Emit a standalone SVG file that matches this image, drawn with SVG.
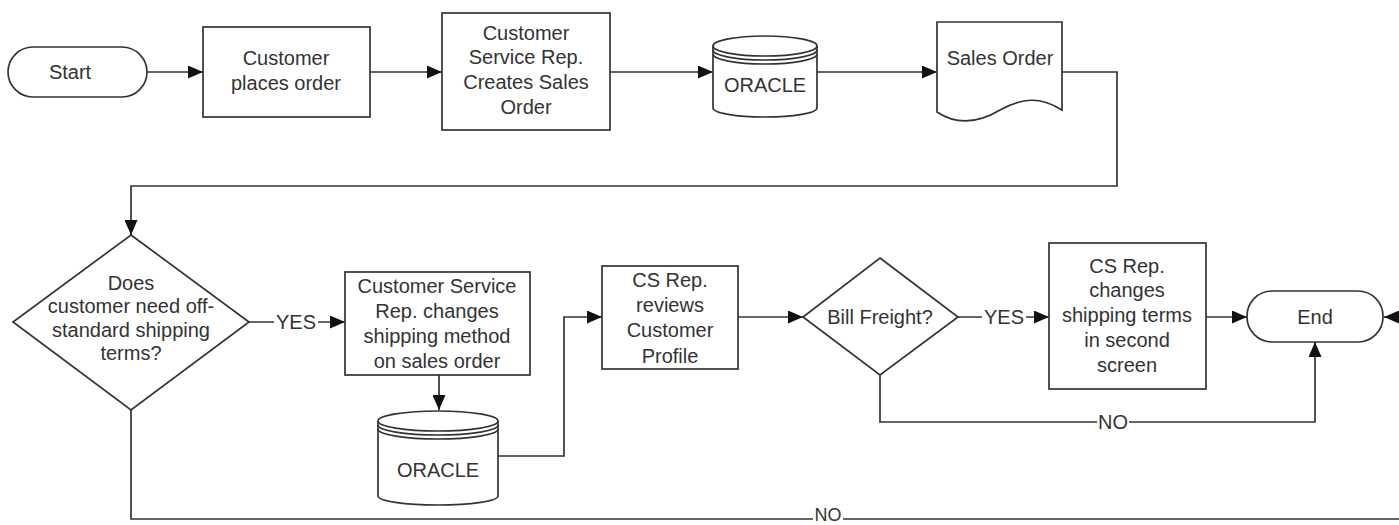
<svg xmlns="http://www.w3.org/2000/svg" width="1399" height="525" viewBox="0 0 1399 525">
<defs>
<marker id="arr" viewBox="0 0 15 13" refX="15" refY="6.5" markerWidth="15" markerHeight="13" markerUnits="userSpaceOnUse" orient="auto">
<path d="M0,0 L15,6.5 L0,13 Z" fill="#111"/>
</marker>
<style>
.s{fill:#fff;stroke:#333;stroke-width:1.7}
.c{fill:none;stroke:#333;stroke-width:1.7}
.t{font-family:"Liberation Sans",Arial,sans-serif;font-size:20px;fill:#333;text-anchor:middle}
.lb{fill:#fff;stroke:none}
</style>
</defs>
<rect width="1399" height="525" fill="#fff"/>
<g id="connectors">
<path class="c" d="M147,72 H203" marker-end="url(#arr)"/>
<path class="c" d="M370,72 H442" marker-end="url(#arr)"/>
<path class="c" d="M610,72 H713" marker-end="url(#arr)"/>
<path class="c" d="M817,72 H937" marker-end="url(#arr)"/>
<path class="c" d="M1062,72 H1117 V186 H131 V235" marker-end="url(#arr)"/>
<path class="c" d="M249,322 H345" marker-end="url(#arr)"/>
<path class="c" d="M439,375 V410" marker-end="url(#arr)"/>
<path class="c" d="M498,456 H564 V317 H602" marker-end="url(#arr)"/>
<path class="c" d="M738,317 H803" marker-end="url(#arr)"/>
<path class="c" d="M958,317 H1049" marker-end="url(#arr)"/>
<path class="c" d="M1206,317 H1247" marker-end="url(#arr)"/>
<path class="c" d="M880,375 V422 H1315 V342" marker-end="url(#arr)"/>
<path class="c" d="M131,410 V519 H1399"/>
<path class="c" d="M1399,317 H1384" marker-end="url(#arr)"/>
<rect class="lb" x="274" y="312" width="44" height="20"/>
<text class="t" x="296" y="329">YES</text>
<rect class="lb" x="982" y="307" width="44" height="20"/>
<text class="t" x="1004" y="324">YES</text>
<rect class="lb" x="1097" y="412" width="32" height="20"/>
<text class="t" x="1113" y="429">NO</text>
<rect class="lb" x="813" y="508" width="30" height="17"/>
<text class="t" x="828" y="521" style="font-size:18px">NO</text>
</g>
<g id="start">
<rect class="s" x="8" y="47" width="139" height="50" rx="25" ry="25"/>
<text class="t" x="70" y="79">Start</text>
</g>
<g id="customer-places-order">
<rect class="s" x="203" y="27" width="167" height="90"/>
<text class="t" x="286" y="65">Customer</text>
<text class="t" x="286" y="90">places order</text>
</g>
<g id="csr-creates-order">
<rect class="s" x="442" y="13" width="168" height="117"/>
<text class="t" x="526" y="40">Customer</text>
<text class="t" x="526" y="64">Service Rep.</text>
<text class="t" x="526" y="89">Creates Sales</text>
<text class="t" x="526" y="114">Order</text>
</g>
<g id="oracle-1">
<path class="s" d="M713,46 A52,10 0 0 1 817,46 V108 A52,9 0 0 1 713,108 Z"/>
<path class="c" d="M713,46 A52,10 0 0 0 817,46 M713,50 A52,10 0 0 0 817,50 M713,54 A52,10 0 0 0 817,54"/>
<text class="t" x="765" y="92">ORACLE</text>
</g>
<g id="sales-order">
<path class="s" d="M937,22 H1062 V110 C1040,96 1022,98 1000,110 C980,122 958,126 937,112 Z"/>
<text class="t" x="1000" y="65">Sales Order</text>
</g>
<g id="decision-off-standard">
<path class="s" d="M131,235 L249,322 L131,410 L13,322 Z"/>
<text class="t" x="131" y="290">Does</text>
<text class="t" x="131" y="313">customer need off-</text>
<text class="t" x="131" y="337">standard shipping</text>
<text class="t" x="131" y="360">terms?</text>
</g>
<g id="csr-changes-method">
<rect class="s" x="345" y="272" width="185" height="103"/>
<text class="t" x="437" y="293">Customer Service</text>
<text class="t" x="437" y="318">Rep. changes</text>
<text class="t" x="437" y="343">shipping method</text>
<text class="t" x="437" y="368">on sales order</text>
</g>
<g id="oracle-2">
<path class="s" d="M378,421 A60,10 0 0 1 498,421 V496 A60,9 0 0 1 378,496 Z"/>
<path class="c" d="M378,421 A60,10 0 0 0 498,421 M378,425 A60,10 0 0 0 498,425 M378,429 A60,10 0 0 0 498,429"/>
<text class="t" x="438" y="477">ORACLE</text>
</g>
<g id="cs-reviews-profile">
<rect class="s" x="602" y="266" width="136" height="103"/>
<text class="t" x="670" y="287">CS Rep.</text>
<text class="t" x="670" y="312">reviews</text>
<text class="t" x="670" y="337">Customer</text>
<text class="t" x="670" y="363">Profile</text>
</g>
<g id="bill-freight">
<path class="s" d="M880,258 L958,317 L880,375 L803,317 Z"/>
<text class="t" x="880" y="324">Bill Freight?</text>
</g>
<g id="cs-changes-terms">
<rect class="s" x="1049" y="243" width="157" height="146"/>
<text class="t" x="1127" y="273">CS Rep.</text>
<text class="t" x="1127" y="297">changes</text>
<text class="t" x="1127" y="322">shipping terms</text>
<text class="t" x="1127" y="347">in second</text>
<text class="t" x="1127" y="372">screen</text>
</g>
<g id="end">
<rect class="s" x="1247" y="291" width="136" height="51" rx="25" ry="25"/>
<text class="t" x="1315" y="324">End</text>
</g>
</svg>
